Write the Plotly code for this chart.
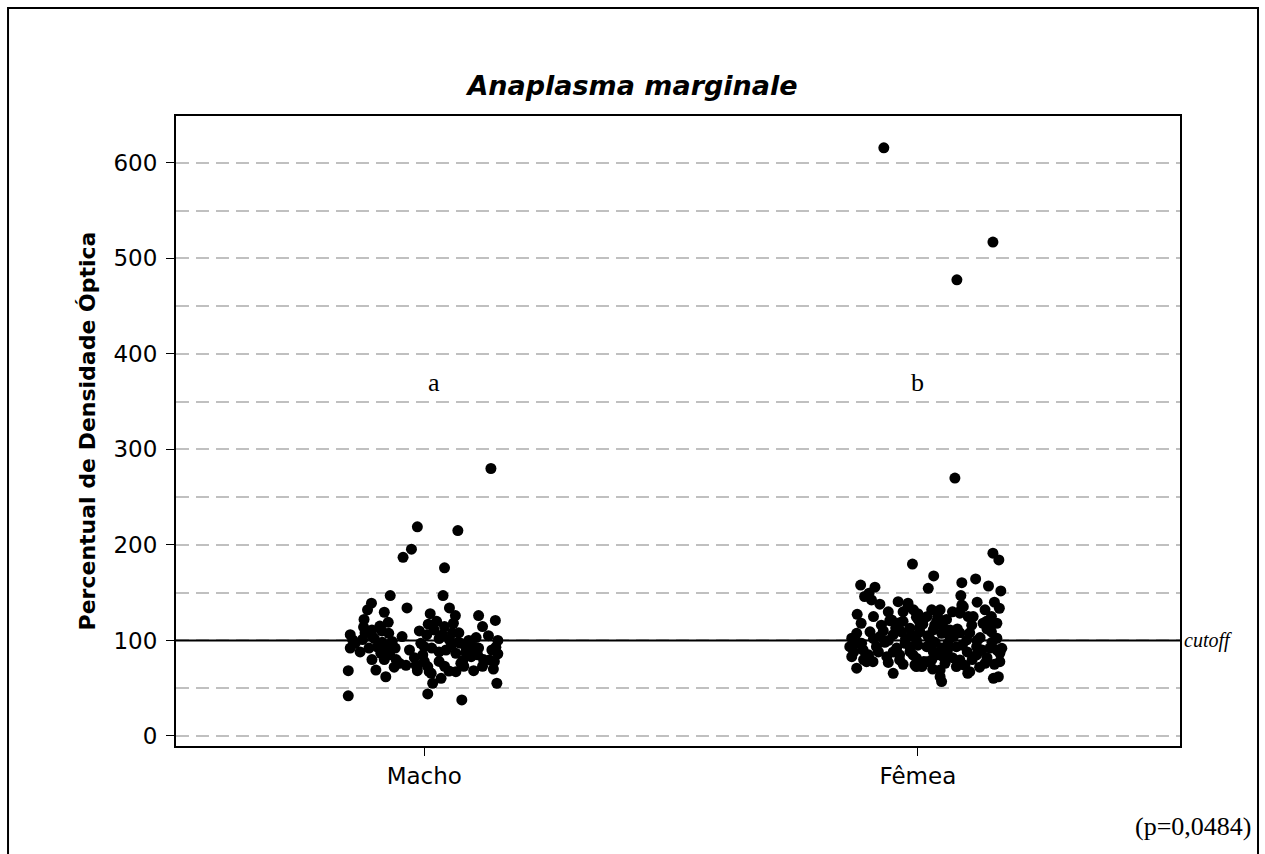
import plotly.graph_objects as go

# ---------------- data ----------------
categories = ["Macho", "Fêmea"]
cat_pos = [1, 2]
cutoff = 100
letters = ["a", "b"]
letter_level = 370
p_text = "(p=0,0484)"

macho_jitter = [0.135, -0.014, 0.068, -0.026, -0.043, 0.041, -0.069, 0.038, -0.035, -0.107,
                -0.115, -0.081, 0.012, 0.051, 0.063, 0.110, 0.144, -0.122, -0.073, 0.118,
                0.008, 0.041, 0.059, -0.123, -0.106, -0.086, -0.072, -0.150, 0.005, 0.037,
                0.057, 0.105, 0.149, -0.125, -0.105, -0.085, -0.007, 0.051, 0.068, -0.150,
                -0.112, -0.078, -0.059, -0.030, 0.000, 0.044, 0.085, 0.098, 0.137, 0.149,
                -0.088, -0.003, 0.064, 0.108, -0.106, -0.081, -0.057, 0.030, 0.078, 0.142,
                -0.037, -0.014, 0.007, 0.041, 0.118, -0.098, -0.154, -0.061, -0.014, 0.010,
                0.064, 0.100, -0.078, 0.034, 0.017, 0.147, 0.007, -0.154, 0.076, -0.145,
                0.020, 0.074, 0.085, 0.095, 0.132, 0.074, 0.030, 0.014, -0.017, -0.101,
                -0.140, -0.130, -0.120, -0.095, -0.090, -0.070, -0.065, -0.050, -0.045, -0.020,
                -0.010, 0.000, 0.015, 0.025, 0.030, 0.050, 0.055, 0.070, 0.080, 0.090,
                0.110, 0.120, 0.130, 0.140, 0.145]
macho_values = [280, 219, 215, 195.5, 187, 176, 147, 147, 134, 139,
                132, 129.5, 128, 134, 126, 126, 121, 122, 119, 114.5,
                117, 114.5, 118, 114, 111, 110, 107.5, 106, 106, 106,
                108, 103, 100, 101, 104, 98, 97, 100.5, 98, 92,
                92, 93.5, 92, 90, 93.5, 90, 90, 93.5, 90, 86,
                86.6, 85, 86.6, 85, 80, 80, 80, 78, 79, 78,
                74, 72.6, 72.6, 73, 73, 69, 68.4, 72, 68.4, 67.3,
                67.3, 68.4, 62, 60.4, 55.2, 55.2, 44, 42, 37.7, 100.5,
                111, 97, 86.6, 83, 79.6, 76, 102, 65.6, 74, 102,
                97, 88, 108, 93, 115, 85, 99, 76, 104, 82,
                110, 78, 92, 120, 88, 68, 95, 108, 73, 100,
                92, 80, 105, 70, 93]

femea_jitter = [-0.069, 0.152, 0.079, 0.075, 0.152, 0.164, -0.011, 0.032, 0.021, -0.116,
                -0.087, -0.108, -0.094, -0.077, 0.089, 0.117, 0.143, 0.168, 0.087, -0.040,
                -0.020, 0.092, 0.165, 0.136, -0.123, -0.030, 0.028, 0.045, 0.085, 0.149,
                -0.003, 0.112, 0.058, -0.057, -0.074, -0.037, 0.034, 0.109, 0.132, -0.097,
                -0.124, -0.016, 0.004, 0.149, -0.077, -0.050, 0.048, 0.072, -0.134, 0.099,
                0.160, -0.003, -0.138, -0.111, -0.084, -0.043, -0.016, 0.018, 0.048, 0.078,
                0.119, 0.146, 0.166, -0.134, -0.097, -0.063, -0.037, -0.003, 0.028, 0.051,
                0.085, 0.119, 0.136, -0.124, -0.050, -0.003, 0.045, 0.048, 0.078, 0.105,
                0.153, 0.163, 0.045, -0.099, -0.020, -0.009, 0.001, -0.053, 0.004, -0.033,
                -0.013, 0.089, 0.084, 0.102, 0.139, 0.038, 0.018, 0.065, 0.031, 0.149,
                -0.104, -0.091, -0.006, 0.008, -0.037, -0.016, 0.101, 0.166, 0.018, 0.031,
                0.170, -0.114, -0.067, -0.026, 0.061, 0.126, 0.024, 0.085,
                -0.130, -0.120, -0.100, -0.090, -0.080, -0.070, -0.060, -0.060, -0.050, -0.045,
                -0.030, -0.025, -0.010, 0.000, 0.010, 0.012, 0.020, 0.030, 0.035, 0.040,
                0.050, 0.055, 0.060, 0.065, 0.070, 0.080, 0.090, 0.095, 0.100, 0.105,
                0.110, 0.120, 0.125, 0.130, 0.140, 0.140, 0.150, 0.155, 0.160, 0.160,
                -0.110, -0.115, -0.090, -0.060, -0.030, 0.000, 0.040, 0.070, 0.120, 0.155]
femea_values = [615.7, 517, 477.5, 270, 191.3, 184.3, 180, 167.5, 154.6, 158,
                155.7, 146, 142.4, 138, 160.5, 164.4, 157, 151.8, 147, 140.6,
                135.4, 135.4, 133.7, 132, 127.4, 130, 132, 132, 128.5, 125,
                124.3, 125, 122, 120.7, 116, 118.6, 116, 116, 118, 109,
                107.5, 112.7, 109, 109, 104, 106, 107.5, 104, 102.3, 100.5,
                102.3, 100.5, 93.5, 90, 93.5, 92, 93.5, 93.5, 92, 93.5,
                93.5, 92, 86.6, 83, 79.6, 83, 79.6, 81.4, 79.6, 83,
                79.6, 84.8, 76, 71, 65.6, 72.6, 69, 57, 72.6, 67.3,
                60.4, 62, 62, 149.4, 139, 132, 121.5, 121.5, 114.5, 109,
                105.8, 137, 130, 125, 120, 120, 124.9, 111, 111, 116,
                77.8, 77.8, 74.3, 72.6, 85, 88.3, 65.6, 77.8, 77.8, 88.3,
                91.8, 97, 98, 97, 97, 103, 102, 108,
                88, 97, 85, 102, 88, 110, 77, 100, 88, 113,
                75, 102, 85, 95, 117, 78, 105, 70, 98, 85,
                115, 76, 90, 103, 82, 112, 95, 74, 88, 108,
                80, 100, 72, 90, 112, 82, 98, 75, 118, 90,
                80, 118, 125, 130, 120, 128, 125, 130, 140, 140]

# ---------------- figure ----------------
fig = go.Figure()

groups = [(macho_jitter, macho_values), (femea_jitter, femea_values)]
for pos, (jit, vals) in zip(cat_pos, groups):
    fig.add_trace(go.Scatter(
        x=[pos + j for j in jit], y=vals, mode="markers",
        marker=dict(color="black", size=11, line=dict(width=0)),
        showlegend=False, hoverinfo="y"))

fig.add_hline(y=cutoff, line=dict(color="black", width=2), layer="above")

fig.add_annotation(x=1, xref="paper", xanchor="left", xshift=2, y=cutoff, yref="y",
                   text="<i>cutoff</i>", showarrow=False,
                   font=dict(family="Liberation Serif", size=20, color="black"))

for pos, lt, dx in zip(cat_pos, letters, [0.02, 0.0]):
    fig.add_annotation(x=pos + dx, y=letter_level, text=lt, showarrow=False,
                       font=dict(family="Liberation Serif", size=26, color="black"))

fig.add_annotation(x=1.0727, xref="paper", xanchor="right", y=-0.127, yref="paper",
                   yanchor="middle", text=p_text, showarrow=False,
                   font=dict(family="Liberation Serif", size=26, color="black"))

# outer frame
fig.add_shape(type="rect", xref="paper", yref="paper",
              x0=-0.1673, x1=1.0777, y0=-0.25, y1=1.1714,
              line=dict(color="black", width=2), layer="above")

grid_style = dict(gridcolor="#c0c0c0", gridwidth=2, griddash="13px,7px")

fig.update_layout(
    width=1265, height=854,
    margin=dict(l=176, r=85, t=116, b=108),
    paper_bgcolor="white", plot_bgcolor="white",
    title=dict(text="<b><i>Anaplasma marginale</i></b>", x=0.5, xanchor="center",
               xref="container", y=0.9, yanchor="middle",
               font=dict(family="DejaVu Sans", size=27, color="black")),
    xaxis=dict(range=[0.497, 2.531], tickvals=cat_pos, ticktext=categories,
               showgrid=False, zeroline=False, showline=True, linecolor="black",
               linewidth=2, mirror=True, ticks="outside", ticklen=8, tickcolor="black",
               tickfont=dict(family="DejaVu Sans", size=23, color="black")),
    yaxis=dict(range=[-10.5, 649], tickvals=[0, 100, 200, 300, 400, 500, 600],
               showgrid=True, **grid_style,
               minor=dict(dtick=50, tick0=0, showgrid=True, **grid_style),
               zeroline=False, showline=True, linecolor="black", linewidth=2,
               mirror=True, ticks="outside", ticklen=8, tickcolor="black",
               ticklabelstandoff=4,
               tickfont=dict(family="DejaVu Sans", size=23, color="black"),
               title=dict(text="<b>Percentual de Densidade Óptica</b>", standoff=12,
                          font=dict(family="DejaVu Sans", size=22, color="black"))),
)

fig.write_html("out.html")
